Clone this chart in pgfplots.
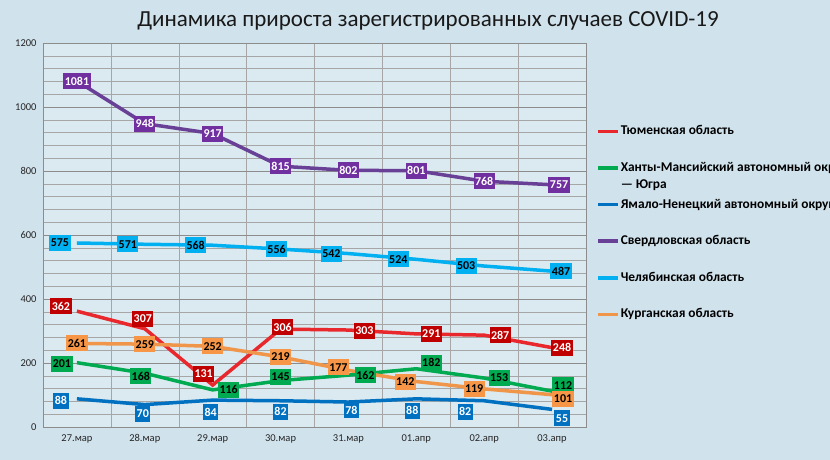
\documentclass[border=0pt]{standalone}
\usepackage{pgfplots}
\pgfplotsset{compat=1.18}
\usepackage{pgfplotstable}
\usepackage{fontspec}
\setmainfont{Carlito}

\definecolor{bg}{RGB}{208,226,236}
\definecolor{cred}{RGB}{232,40,44}
\definecolor{credlab}{RGB}{192,0,0}
\definecolor{cgreen}{RGB}{0,170,80}
\definecolor{cblue}{RGB}{0,112,192}
\definecolor{cpurple}{RGB}{104,64,150}
\definecolor{cpurplelab}{RGB}{112,48,160}
\definecolor{clight}{RGB}{0,176,240}
\definecolor{corange}{RGB}{240,150,75}
\definecolor{corangelab}{RGB}{247,150,70}

\pgfplotstableread{
x y dx dy
0 362 -16 5
1 307 -2 10
2 131 -9 11
3 306 2 2
4 303 16 -1
5 291 15 0
6 287 16 0
7 248 10 0
}\tred
\pgfplotstableread{
x y dx dy
0 201 -15 -1
1 168 -4 -3
2 116 16 0
3 145 0 4
4 162 17 0
5 182 15 6
6 153 15 0
7 112 11 6
}\tgreen
\pgfplotstableread{
x y dx dy
0 88 -16 -2
1 70 -2 -9
2 84 -2 -12
3 82 0 -11
4 78 3 -8
5 88 -4 -12
6 82 -19 -11
7 55 10 -9
}\tblue
\pgfplotstableread{
x y dx dy
0 1081 0 0
1 948 0 0
2 917 0 0
3 815 0 0
4 802 0 0
5 801 0 0
6 768 0 0
7 757 7 0
}\tpurple
\pgfplotstableread{
x y dx dy
0 575 -17 0
1 571 -17 0
2 568 -17 0
3 556 -4 0
4 542 -17 0
5 524 -18 0
6 503 -18 0
7 487 9 0
}\tlight
\pgfplotstableread{
x y dx dy
0 261 0 0
1 259 0 0
2 252 0 0
3 219 0 0
4 177 -10 3
5 142 -11 0
6 119 -10 0
7 101 11 -4
}\torange

\pgfplotsset{
  labs/.style 2 args={
    forget plot, draw=none, mark=none,
    nodes near coords,
    point meta=explicit symbolic,
    visualization depends on={\thisrow{dx}\as\dx},
    visualization depends on={\thisrow{dy}\as\dy},
    every node near coord/.style={anchor=center, fill=#1, text=#2,
      font=\bfseries\fontsize{12}{14}\selectfont,
      inner xsep=1.5pt, inner ysep=0pt, minimum height=16pt,
      xshift=\dx pt, yshift=\dy pt}
  }
}

\begin{document}
\begin{tikzpicture}[x=1pt,y=1pt]
\fill[bg] (0,0) rectangle (830,460);
\useasboundingbox (0,0) rectangle (830,460);
\node[font=\fontsize{23}{27}\selectfont, text=black!90] at (428,439) {Динамика прироста зарегистрированных случаев COVID-19};
\begin{axis}[
  at={(43pt,33pt)}, anchor=south west,
  scale only axis, width=543pt, height=384pt,
  xmin=-0.5, xmax=7.5, ymin=0, ymax=1200,
  clip=false,
  axis background/.style={fill=white, fill opacity=0.25},
  xtick={0,...,7},
  xticklabels={27.мар,28.мар,29.мар,30.мар,31.мар,01.апр,02.апр,03.апр},
  ytick={0,200,...,1200},
  minor xtick={0.5,1.5,...,6.5},
  minor y tick num=4,
  xminorgrids=true, ymajorgrids=true, yminorgrids=true,
  major grid style={draw=black!45, line width=0.6pt},
  minor grid style={draw=black!35, line width=0.5pt},
  axis line style={draw=black!45, line width=0.6pt},
  major tick length=0pt, minor tick length=0pt,
  tick label style={font=\fontsize{10.5}{12}\selectfont, text=black!85},
  /pgf/number format/assume math mode=true,
  /pgf/number format/1000 sep={},
  yticklabel style={xshift=-3pt},
  xticklabel style={yshift=-4pt},
  legend style={at={(1.013,0.795)}, anchor=north west, draw=none, fill=none,
    font=\bfseries\fontsize{13.4}{16}\selectfont, row sep=21.6pt,
    nodes={inner sep=1pt, text height=10pt, text depth=3pt},
    /tikz/every even column/.append style={column sep=0pt}},
  legend cell align=left,
  legend image code/.code={\draw[#1, line width=3.5pt] (0pt,0pt) -- (20pt,0pt);},
]
\addplot[cred, line width=3.5pt] table[x=x,y=y]{\tred};
\addlegendentry{Тюменская область}
\addplot[cgreen, line width=3.5pt] table[x=x,y=y]{\tgreen};
\addlegendentry{\raisebox{0pt}[\height][0pt]{\begin{tabular}[t]{@{}l@{}}Ханты-Мансийский автономный округ\\[1pt]— Югра\end{tabular}}}
\addplot[cblue, line width=3.5pt] table[x=x,y=y]{\tblue};
\addlegendentry{Ямало-Ненецкий автономный округ}
\addplot[cpurple, line width=3.5pt] table[x=x,y=y]{\tpurple};
\addlegendentry{Свердловская область}
\addplot[clight, line width=3.5pt] table[x=x,y=y]{\tlight};
\addlegendentry{Челябинская область}
\addplot[corange, line width=3.5pt] table[x=x,y=y]{\torange};
\addlegendentry{Курганская область}

\addplot[labs={credlab}{white}] table[x=x,y=y,meta=y]{\tred};
\addplot[labs={cgreen}{black}] table[x=x,y=y,meta=y]{\tgreen};
\addplot[labs={cblue}{white}] table[x=x,y=y,meta=y]{\tblue};
\addplot[labs={cpurplelab}{white}] table[x=x,y=y,meta=y]{\tpurple};
\addplot[labs={clight}{black}] table[x=x,y=y,meta=y]{\tlight};
\addplot[labs={corangelab}{black}] table[x=x,y=y,meta=y]{\torange};
\end{axis}
\end{tikzpicture}
\end{document}
